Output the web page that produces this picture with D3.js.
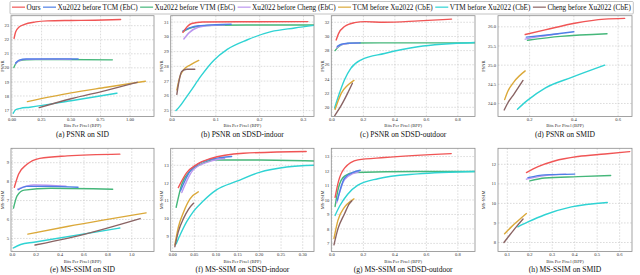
<!DOCTYPE html>
<html>
<head>
<meta charset="utf-8">
<script src="https://cdn.jsdelivr.net/npm/d3@7/dist/d3.min.js"></script>
<style>
body { margin: 0; background: #fff; }
svg { display: block; font-family: "Liberation Serif", "Times New Roman", Times, "DejaVu Serif", serif; }
</style>
</head>
<body>
<script>
// legend / series
const seriesNames = [
    'Ours', 'Xu2022 before TCM (EbC)', 'Xu2022 before VTM (EbC)', 'Xu2022 before Cheng (EbC)',
    'TCM before Xu2022 (CbE)', 'VTM before Xu2022 (CbE)', 'Cheng before Xu2022 (CbE)'
];
const seriesColors = ['#f05555', '#4f7fe6', '#45b77a', '#bb96ef', '#dba93a', '#2fd3d3', '#8a6464'];
// draw order (later on top)
const drawOrder = [2, 3, 1, 0, 5, 4, 6];

// each panel: 7 series, points are [bpp, value], same order as seriesNames
const psnrSid = [
    [[0.017, 22.1], [0.03, 22.55], [0.06, 22.9], [0.1, 23.08], [0.2, 23.27], [0.3, 23.34], [0.5, 23.37], [0.7, 23.39], [0.92, 23.44]],
    [[0.03, 20.35], [0.06, 20.55], [0.12, 20.63], [0.3, 20.64], [0.56, 20.63]],
    [[0.015, 20.02], [0.03, 20.28], [0.06, 20.5], [0.12, 20.58], [0.4, 20.59], [0.85, 20.57]],
    [[0.03, 20.3], [0.06, 20.52], [0.12, 20.6], [0.3, 20.62], [0.5, 20.61]],
    [[0.13, 17.6], [0.5, 18.22], [0.8, 18.62], [1.13, 19.05]],
    [[0.01, 16.77], [0.03, 17.02], [0.07, 17.12], [0.15, 17.2], [0.5, 17.66], [0.89, 18.2]],
    [[0.23, 17.17], [0.5, 17.8], [0.8, 18.4], [1.06, 18.97]]
];
const psnrIndoor = [
    [[0.025, 30.3], [0.035, 30.7], [0.045, 30.9], [0.07, 31.0], [0.15, 31.02], [0.31, 31.03]],
    [[0.025, 30.4], [0.04, 30.6], [0.06, 30.75], [0.1, 30.82], [0.135, 30.85]],
    [[0.025, 30.35], [0.04, 30.58], [0.06, 30.7], [0.1, 30.78], [0.2, 30.8], [0.33, 30.8]],
    [[0.027, 29.85], [0.04, 30.3], [0.06, 30.65], [0.09, 30.78], [0.12, 30.82]],
    [[0.011, 26.4], [0.018, 27.3], [0.026, 27.75], [0.042, 28.1], [0.061, 28.4]],
    [[0.009, 25.0], [0.018, 25.3], [0.03, 25.8], [0.042, 26.3], [0.065, 27.3], [0.095, 28.4], [0.126, 29.15], [0.172, 29.8], [0.226, 30.35], [0.28, 30.6], [0.33, 30.8]],
    [[0.011, 26.1], [0.016, 27.0], [0.022, 27.65], [0.034, 27.8], [0.052, 27.8]]
];
const psnrOutdoor = [
    [[0.027, 29.5], [0.042, 30.4], [0.08, 31.4], [0.144, 31.95], [0.21, 32.1], [0.33, 32.0], [0.55, 32.2], [0.76, 32.45]],
    [[0.034, 28.6], [0.06, 28.9], [0.1, 29.05], [0.18, 29.1]],
    [[0.02, 28.0], [0.04, 28.5], [0.08, 28.95], [0.15, 29.08], [0.5, 29.1], [0.91, 29.1]],
    [[0.03, 28.4], [0.06, 28.85], [0.1, 29.0], [0.17, 29.1]],
    [[0.02, 19.7], [0.06, 22.0], [0.1, 23.1], [0.14, 23.8]],
    [[0.017, 19.9], [0.04, 21.5], [0.08, 23.9], [0.12, 25.5], [0.186, 26.7], [0.334, 27.6], [0.546, 28.55], [0.91, 29.15]],
    [[0.017, 18.8], [0.06, 20.3], [0.1, 22.0], [0.13, 23.4]]
];
const psnrSmid = [
    [[0.18, 25.8], [0.27, 25.92], [0.41, 26.1], [0.54, 26.2], [0.63, 26.22]],
    [[0.185, 25.73], [0.3, 25.8], [0.4, 25.87]],
    [[0.19, 25.65], [0.34, 25.75], [0.55, 25.82]],
    [[0.18, 25.68], [0.25, 25.75], [0.33, 25.82]],
    [[0.087, 24.1], [0.1, 24.3], [0.13, 24.57], [0.18, 24.85]],
    [[0.145, 23.85], [0.19, 24.08], [0.27, 24.4], [0.39, 24.68], [0.54, 25.0]],
    [[0.085, 23.83], [0.1, 24.0], [0.13, 24.25], [0.17, 24.6]]
];
const ssimSid = [
    [[0.017, 7.7], [0.053, 8.4], [0.12, 8.9], [0.23, 9.23], [0.46, 9.36], [0.9, 9.45]],
    [[0.05, 7.57], [0.12, 7.75], [0.32, 7.75], [0.55, 7.7]],
    [[0.01, 6.6], [0.04, 7.25], [0.1, 7.55], [0.32, 7.65], [0.84, 7.6]],
    [[0.045, 7.6], [0.18, 7.82], [0.45, 7.76]],
    [[0.13, 5.23], [0.46, 5.63], [1.12, 6.35]],
    [[0.01, 4.5], [0.07, 4.68], [0.18, 4.8], [0.9, 5.55]],
    [[0.19, 4.65], [0.46, 5.0], [1.07, 6.05]]
];
const ssimIndoor = [
    [[0.013, 11.74], [0.032, 12.57], [0.055, 13.04], [0.086, 13.37], [0.163, 13.68], [0.308, 13.78]],
    [[0.018, 11.56], [0.04, 12.67], [0.063, 13.13], [0.094, 13.37], [0.136, 13.5]],
    [[0.008, 10.63], [0.021, 11.93], [0.04, 12.67], [0.063, 13.04], [0.094, 13.3], [0.2, 13.3], [0.326, 13.24]],
    [[0.021, 11.46], [0.048, 12.76], [0.086, 13.22], [0.12, 13.4]],
    [[0.005, 8.5], [0.013, 9.5], [0.025, 10.35], [0.04, 11.1], [0.059, 11.5]],
    [[0.008, 8.56], [0.017, 9.06], [0.032, 9.8], [0.048, 10.4], [0.071, 11.0], [0.1, 11.6], [0.148, 12.1], [0.2, 12.6], [0.263, 12.9], [0.326, 13.0]],
    [[0.005, 8.4], [0.013, 9.25], [0.025, 10.0], [0.036, 10.5], [0.048, 10.85]]
];
const ssimOutdoor = [
    [[0.02, 10.18], [0.042, 11.3], [0.08, 12.2], [0.165, 12.77], [0.334, 12.93], [0.758, 13.2]],
    [[0.034, 9.95], [0.08, 11.5], [0.133, 11.9], [0.18, 12.05]],
    [[0.02, 9.55], [0.042, 10.86], [0.08, 11.65], [0.144, 11.9], [0.546, 11.97], [0.91, 11.97]],
    [[0.03, 9.8], [0.08, 11.4], [0.133, 11.82], [0.17, 11.95]],
    [[0.013, 7.34], [0.038, 8.59], [0.08, 9.5], [0.123, 9.95], [0.14, 10.07]],
    [[0.02, 8.93], [0.05, 9.6], [0.1, 10.4], [0.165, 11.02], [0.292, 11.47], [0.546, 11.8], [0.91, 11.97]],
    [[0.013, 6.9], [0.038, 8.0], [0.08, 9.05], [0.11, 9.73], [0.127, 9.95]]
];
const ssimSmid = [
    [[0.185, 11.58], [0.237, 11.88], [0.31, 12.17], [0.415, 12.4], [0.534, 12.53], [0.645, 12.65]],
    [[0.192, 11.32], [0.267, 11.46], [0.4, 11.5]],
    [[0.2, 11.15], [0.267, 11.3], [0.415, 11.37], [0.56, 11.43]],
    [[0.185, 11.24], [0.267, 11.42], [0.36, 11.5]],
    [[0.088, 8.45], [0.118, 8.8], [0.147, 9.1], [0.185, 9.48]],
    [[0.147, 8.8], [0.192, 9.05], [0.267, 9.42], [0.385, 9.82], [0.545, 10.05]],
    [[0.085, 8.0], [0.11, 8.37], [0.14, 8.8], [0.17, 9.2]]
];

// tick values
const sidBppTicks = [0, 0.25, 0.5, 0.75, 1.0];
const indoorBppTicks = [0, 0.1, 0.2, 0.3];
const outdoorBppTicks = [0, 0.2, 0.4, 0.6, 0.8];
const smidBppTicks = [0.2, 0.4, 0.6];
const sidSsimBppTicks = [0, 0.2, 0.4, 0.6, 0.8, 1.0];
const indoorSsimBppTicks = [0, 0.05, 0.1, 0.15, 0.2, 0.25, 0.3];
const smidSsimBppTicks = [0.1, 0.2, 0.3, 0.4, 0.5, 0.6];
const psnrSidTicks = [17, 18, 19, 20, 21, 22, 23];
const psnrIndoorTicks = [25, 26, 27, 28, 29, 30, 31];
const psnrOutdoorTicks = [20, 22, 24, 26, 28, 30, 32];
const psnrSmidTicks = [24.0, 24.5, 25.0, 25.5, 26.0];
const ssimSidTicks = [5, 6, 7, 8, 9];
const ssimIndoorTicks = [9, 10, 11, 12, 13];
const ssimOutdoorTicks = [7, 8, 9, 10, 11, 12, 13];
const ssimSmidTicks = [8, 9, 10, 11, 12];

const width = 640;
const height = 275;
const svg = d3.select('body').append('svg').attr('width', width).attr('height', height);

// panel layout
const rows = [
    {top: 15.7, bottom: 116.5, tickY: 120.6, titleY: 126.6, captionY: 136.6},
    {top: 148.3, bottom: 251.5, tickY: 256.4, titleY: 262.8, captionY: 271.6}
];
const cols = [
    {left: 11, right: 154},
    {left: 170.7, right: 314},
    {left: 331.3, right: 475},
    {left: 498, right: 632}
];
const panels = [
    {data: psnrSid, caption: '(a) PSNR on SID', metric: 'PSNR', row: 0, col: 0, x: [-0.009, 1.203], y: [16.54, 23.71], xt: sidBppTicks, xf: '.2f', yt: psnrSidTicks, yf: 'd'},
    {data: psnrIndoor, caption: '(b) PSNR on SDSD-indoor', metric: 'PSNR', row: 0, col: 1, x: [-0.003, 0.324], y: [24.6, 31.43], xt: indoorBppTicks, xf: '.1f', yt: psnrIndoorTicks, yf: 'd'},
    {data: psnrOutdoor, caption: '(c) PSNR on SDSD-outdoor', metric: 'PSNR', row: 0, col: 2, x: [-0.004, 0.909], y: [18.7, 32.93], xt: outdoorBppTicks, xf: '.1f', yt: psnrOutdoorTicks, yf: 'd'},
    {data: psnrSmid, caption: '(d) PSNR on SMID', metric: 'PSNR', row: 0, col: 3, x: [0.057, 0.663], y: [23.66, 26.29], xt: smidBppTicks, xf: '.1f', yt: psnrSmidTicks, yf: '.1f'},
    {data: ssimSid, caption: '(e) MS-SSIM on SID', metric: 'MS-SSIM', row: 1, col: 0, x: [-0.011, 1.186], y: [4.31, 9.76], xt: sidSsimBppTicks, xf: '.1f', yt: ssimSidTicks, yf: 'd'},
    {data: ssimIndoor, caption: '(f) MS-SSIM on SDSD-indoor', metric: 'MS-SSIM', row: 1, col: 1, x: [-0.0046, 0.326], y: [8.13, 13.96], xt: indoorSsimBppTicks, xf: '.2f', yt: ssimIndoorTicks, yf: 'd'},
    {data: ssimOutdoor, caption: '(g) MS-SSIM on SDSD-outdoor', metric: 'MS-SSIM', row: 1, col: 2, x: [-0.004, 0.909], y: [6.44, 13.57], xt: outdoorBppTicks, xf: '.1f', yt: ssimOutdoorTicks, yf: 'd'},
    {data: ssimSmid, caption: '(h) MS-SSIM on SMID', metric: 'MS-SSIM', row: 1, col: 3, x: [0.0586, 0.655], y: [7.54, 12.82], xt: smidSsimBppTicks, xf: '.1f', yt: ssimSmidTicks, yf: 'd'}
];

panels.forEach((p, i) => {
    const r = rows[p.row];
    const c = cols[p.col];
    const xScale = d3.scaleLinear().domain(p.x).range([c.left, c.right]);
    const yScale = d3.scaleLinear().domain(p.y).range([r.bottom, r.top]);
    const g = svg.append('g');
    // clip
    g.append('clipPath').attr('id', `clip${i}`)
        .append('rect')
        .attr('x', c.left).attr('y', r.top)
        .attr('width', c.right - c.left).attr('height', r.bottom - r.top);
    // grid
    g.selectAll('.gx').data(p.xt).enter().append('line')
        .attr('x1', d => xScale(d)).attr('x2', d => xScale(d))
        .attr('y1', r.top).attr('y2', r.bottom)
        .attr('stroke', '#c4c4c4').attr('stroke-width', 0.6).attr('stroke-dasharray', '1.6,1.4');
    g.selectAll('.gy').data(p.yt).enter().append('line')
        .attr('x1', c.left).attr('x2', c.right)
        .attr('y1', d => yScale(d)).attr('y2', d => yScale(d))
        .attr('stroke', '#c4c4c4').attr('stroke-width', 0.6).attr('stroke-dasharray', '1.6,1.4');
    // series
    const line = d3.line()
        .x(d => xScale(d[0]))
        .y(d => yScale(d[1]))
        .curve(d3.curveMonotoneX);
    const lines = g.append('g').attr('clip-path', `url(#clip${i})`);
    drawOrder.forEach((s) => {
        lines.append('path')
            .attr('d', line(p.data[s]))
            .attr('fill', 'none')
            .attr('stroke', seriesColors[s])
            .attr('stroke-width', 1.4)
            .attr('stroke-linecap', 'round');
    });
    // frame
    g.append('rect')
        .attr('x', c.left).attr('y', r.top)
        .attr('width', c.right - c.left).attr('height', r.bottom - r.top)
        .attr('fill', 'none').attr('stroke', '#8c8c8c').attr('stroke-width', 0.8);
    // tick labels
    const xFmt = d3.format(p.xf);
    const yFmt = d3.format(p.yf);
    g.selectAll('.tx').data(p.xt).enter().append('text')
        .attr('x', d => xScale(d)).attr('y', r.tickY)
        .attr('text-anchor', 'middle').attr('font-size', 4.6).attr('fill', '#333')
        .text(d => xFmt(d));
    g.selectAll('.ty').data(p.yt).enter().append('text')
        .attr('x', c.left - 2).attr('y', d => yScale(d) + 1.6)
        .attr('text-anchor', 'end').attr('font-size', 4.6).attr('fill', '#333')
        .text(d => yFmt(d));
    // axis titles
    g.append('text')
        .attr('x', (c.left + c.right) / 2).attr('y', r.titleY)
        .attr('text-anchor', 'middle').attr('font-size', 4.6).attr('fill', '#333')
        .text('Bits Per Pixel (BPP)');
    const yLabelX = c.left - (p.col === 3 ? 13 : 7.5);
    g.append('text')
        .attr('transform', `translate(${yLabelX},${(r.top + r.bottom) / 2}) rotate(-90)`)
        .attr('text-anchor', 'middle').attr('font-size', 4.6).attr('fill', '#333')
        .text(p.metric);
    // caption
    g.append('text')
        .attr('x', (c.left + c.right) / 2).attr('y', r.captionY)
        .attr('text-anchor', 'middle').attr('font-size', 7.6).attr('fill', '#111')
        .text(p.caption);
});

// legend: measure once, then fit the row between x=12 and x=634
const legend = svg.append('g');
const legendStart = 12;
const legendEnd = 634;
const sampleLen = 13;
const textGap = 1.5;
const itemGap = 2.5;
let legendFont = 7.5;
const probes = seriesNames.map(name => legend.append('text').attr('font-size', legendFont).text(name));
const textTotal = d3.sum(probes, t => t.node().getComputedTextLength());
probes.forEach(t => t.remove());
const fixedTotal = seriesNames.length * (sampleLen + textGap + itemGap);
const available = legendEnd - legendStart - fixedTotal;
if (textTotal > available) {
    legendFont = legendFont * available / textTotal;
}
const legendBox = legend.append('rect')
    .attr('x', 10).attr('y', 1.5).attr('height', 12.5)
    .attr('fill', '#fff').attr('stroke', '#aaa').attr('stroke-width', 0.7).attr('rx', 1);
let lx = legendStart;
seriesNames.forEach((name, i) => {
    legend.append('line')
        .attr('x1', lx).attr('x2', lx + sampleLen)
        .attr('y1', 7.2).attr('y2', 7.2)
        .attr('stroke', seriesColors[i]).attr('stroke-width', 1.5).attr('stroke-opacity', 0.8);
    const t = legend.append('text')
        .attr('x', lx + sampleLen + textGap).attr('y', 9.9)
        .attr('font-size', legendFont).attr('fill', '#111')
        .text(name);
    lx += sampleLen + textGap + t.node().getComputedTextLength() + itemGap;
});
legendBox.attr('width', lx - 10);
</script>
</body>
</html>
